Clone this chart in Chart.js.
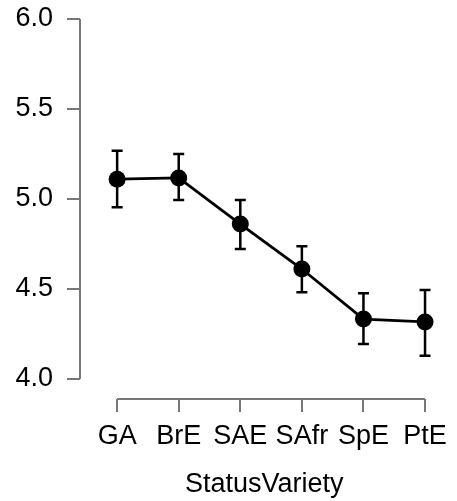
<!DOCTYPE html>
<html>
<head>
<meta charset="utf-8">
<script src="https://cdn.jsdelivr.net/npm/chart.js@4.4.1/dist/chart.umd.min.js"></script>
<style>
html,body{margin:0;padding:0;background:#fff;}
#wrap{width:457px;height:501px;position:relative;}
</style>
</head>
<body>
<div id="wrap"><canvas id="c" width="457" height="501"></canvas></div>
<script>
const categories = ["GA", "BrE", "SAE", "SAfr", "SpE", "PtE"];
const means = [5.11, 5.117, 4.861, 4.611, 4.333, 4.317];
const upper = [5.268, 5.25, 4.994, 4.737, 4.476, 4.494];
const lower = [4.954, 4.994, 4.722, 4.482, 4.194, 4.129];
const yTicks = [4.0, 4.5, 5.0, 5.5, 6.0];
const xTitle = "StatusVariety";

const FONT = "'Liberation Sans', Arial, Helvetica, sans-serif";
const AXIS_COLOR = "#777777";

const errorBars = {
  id: "errorBars",
  afterDatasetsDraw(chart) {
    const ctx = chart.ctx;
    const xs = chart.scales.x, ys = chart.scales.y;
    ctx.save();
    ctx.strokeStyle = "#000";
    ctx.lineWidth = 2.5;
    const cap = 5.5;
    for (let i = 0; i < categories.length; i++) {
      const px = xs.getPixelForValue(i);
      const pt = ys.getPixelForValue(upper[i]);
      const pb = ys.getPixelForValue(lower[i]);
      ctx.beginPath();
      ctx.moveTo(px, pt); ctx.lineTo(px, pb);
      ctx.moveTo(px - cap, pt); ctx.lineTo(px + cap, pt);
      ctx.moveTo(px - cap, pb); ctx.lineTo(px + cap, pb);
      ctx.stroke();
    }
    ctx.restore();
  }
};

const axisLines = {
  id: "axisLines",
  beforeDatasetsDraw(chart) {
    const ctx = chart.ctx;
    const xs = chart.scales.x, ys = chart.scales.y;
    const a = chart.chartArea;
    ctx.save();
    ctx.strokeStyle = AXIS_COLOR;
    ctx.lineWidth = 2;
    ctx.beginPath();
    ctx.moveTo(a.left, ys.getPixelForValue(yTicks[0]));
    ctx.lineTo(a.left, ys.getPixelForValue(yTicks[yTicks.length - 1]));
    ctx.moveTo(xs.getPixelForValue(0), a.bottom);
    ctx.lineTo(xs.getPixelForValue(categories.length - 1), a.bottom);
    ctx.stroke();
    ctx.restore();
  }
};

new Chart(document.getElementById("c"), {
  type: "line",
  data: {
    datasets: [{
      data: means.map((v, i) => ({ x: i, y: v })),
      borderColor: "#000",
      backgroundColor: "#000",
      borderWidth: 2.8,
      pointRadius: 8.5,
      pointHoverRadius: 8.5,
      pointBackgroundColor: "#000",
      pointBorderWidth: 0,
      tension: 0
    }]
  },
  options: {
    responsive: false,
    animation: false,
    events: [],
    layout: { padding: { top: 19, right: 0, left: 0, bottom: 0 } },
    plugins: { legend: { display: false }, tooltip: { enabled: false }, title: { display: false } },
    scales: {
      x: {
        type: "linear",
        min: -0.603,
        max: 5.381,
        afterBuildTicks(s) { s.ticks = categories.map((c, i) => ({ value: i })); },
        afterFit(s) { s.height = 102; s.paddingLeft = 0; s.paddingRight = 0; },
        grid: { display: true, drawOnChartArea: false, drawTicks: true, tickLength: 13, color: AXIS_COLOR, lineWidth: 2 },
        border: { display: false },
        ticks: {
          autoSkip: false,
          maxRotation: 0,
          padding: 8,
          color: "#000",
          font: { family: FONT, size: 27 },
          callback: (v) => categories[v] !== undefined ? categories[v] : ""
        },
        title: { display: true, text: xTitle, color: "#000", font: { family: FONT, size: 27 }, padding: { top: 9, bottom: 0 } }
      },
      y: {
        type: "linear",
        min: 3.889,
        max: 6.0,
        afterBuildTicks(s) { s.ticks = yTicks.map(v => ({ value: v })); },
        afterFit(s) { s.width = 80; s.paddingTop = 0; s.paddingBottom = 0; },
        grid: { display: true, drawOnChartArea: false, drawTicks: true, tickLength: 13, color: AXIS_COLOR, lineWidth: 2 },
        border: { display: false },
        ticks: {
          padding: 14,
          color: "#000",
          font: { family: FONT, size: 27 },
          callback: (v) => Number(v).toFixed(1)
        }
      }
    }
  },
  plugins: [axisLines, errorBars]
});
</script>
</body>
</html>
